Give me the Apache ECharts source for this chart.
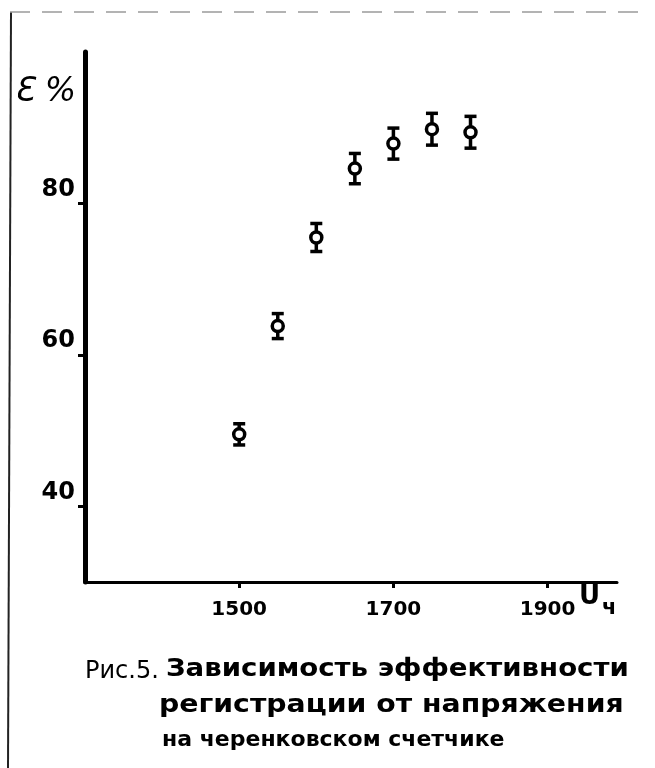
<!DOCTYPE html>
<html><head><meta charset="utf-8">
<script src="https://cdn.jsdelivr.net/npm/echarts@6/dist/echarts.min.js"></script>
<style>html,body{margin:0;padding:0;background:#fff}#c{width:655px;height:768px}</style>
</head><body><div id="c"></div>
<script>
// Data
var voltages = [1500, 1550, 1600, 1650, 1700, 1750, 1800];
var efficiency = [49.5, 63.8, 75.5, 84.6, 87.9, 89.8, 89.4];
var errors = [1.4, 1.65, 1.85, 2.0, 2.05, 2.1, 2.1];
var xTicks = [1500, 1700, 1900];
var yTicks = [40, 60, 80];
var captionLines = ['Рис.5.', 'Зависимость эффективности', 'регистрации от напряжения', 'на черенковском счетчике'];

var pts = voltages.map(function (v, i) { return [v, efficiency[i]]; });
var errData = voltages.map(function (v, i) { return [v, efficiency[i] - errors[i], efficiency[i] + errors[i]]; });

var chart = echarts.init(document.getElementById('c'), null, {renderer: 'canvas'});
var hand = '"DejaVu Sans", sans-serif';
chart.setOption({
  backgroundColor: '#fff',
  animation: false,
  grid: {left: 85, right: 38, top: 52, bottom: 186, containLabel: false},
  xAxis: {
    type: 'value', min: 1300, max: 1990,
    splitLine: {show: false},
    axisLine: {lineStyle: {color: '#000', width: 3}},
    axisTick: {customValues: xTicks, length: 6, lineStyle: {color: '#000', width: 3}},
    axisLabel: {customValues: xTicks, color: '#000', fontFamily: hand, fontWeight: 'bold', fontSize: 20, margin: 18,
      formatter: function (v) { return String(v); }}
  },
  yAxis: {
    type: 'value', min: 30, max: 100,
    splitLine: {show: false},
    axisLine: {lineStyle: {color: '#000', width: 5}},
    axisTick: {customValues: yTicks, length: 7, lineStyle: {color: '#000', width: 3}},
    axisLabel: {customValues: yTicks, color: '#000', fontFamily: hand, fontWeight: 'bold', fontSize: 24, margin: 10, verticalAlign: 'bottom', lineHeight: 28}
  },
  series: [
    {
      type: 'custom',
      data: errData,
      z: 2,
      renderItem: function (params, api) {
        var lo = api.coord([api.value(0), api.value(1)]);
        var hi = api.coord([api.value(0), api.value(2)]);
        var w = 6;
        var st = {stroke: '#000', lineWidth: 3.5};
        return {type: 'group', children: [
          {type: 'line', shape: {x1: lo[0], y1: lo[1], x2: hi[0], y2: hi[1]}, style: st},
          {type: 'line', shape: {x1: lo[0] - w, y1: lo[1], x2: lo[0] + w, y2: lo[1]}, style: st},
          {type: 'line', shape: {x1: hi[0] - w, y1: hi[1], x2: hi[0] + w, y2: hi[1]}, style: st}
        ]};
      }
    },
    {
      type: 'scatter', data: pts, z: 3,
      symbol: 'circle', symbolSize: 11,
      itemStyle: {color: '#fff', borderColor: '#000', borderWidth: 3.5, opacity: 1}
    }
  ],
  graphic: [
    {type: 'line', shape: {x1: 11, y1: 12, x2: 8, y2: 768}, style: {stroke: '#222', lineWidth: 2}},
    {type: 'line', shape: {x1: 10, y1: 12, x2: 650, y2: 12}, style: {stroke: '#9a9a9a', lineWidth: 1.5, lineDash: [20, 12]}},
    {type: 'text', x: 14, y: 92, style: {text: 'Ɛ %', font: 'italic 33px ' + hand, fill: '#000', verticalAlign: 'middle'}},
    {type: 'text', x: 579, y: 597, style: {text: 'U', font: 'bold 26px ' + hand, fill: '#000', verticalAlign: 'middle'}},
    {type: 'text', x: 602, y: 609, style: {text: 'ч', font: 'bold 21px ' + hand, fill: '#000', verticalAlign: 'middle'}},
    {type: 'text', x: 85, y: 672, style: {text: captionLines[0], font: '24px ' + hand, fill: '#000', verticalAlign: 'middle'}},
    {type: 'text', x: 166, y: 670, scaleX: 1.15, style: {text: captionLines[1], font: 'bold 24px ' + hand, fill: '#000', verticalAlign: 'middle'}},
    {type: 'text', x: 159, y: 706, scaleX: 1.18, style: {text: captionLines[2], font: 'bold 24px ' + hand, fill: '#000', verticalAlign: 'middle'}},
    {type: 'text', x: 162, y: 740, style: {text: captionLines[3], font: 'bold 22px ' + hand, fill: '#000', verticalAlign: 'middle'}}
  ]
});
</script>
</body></html>
